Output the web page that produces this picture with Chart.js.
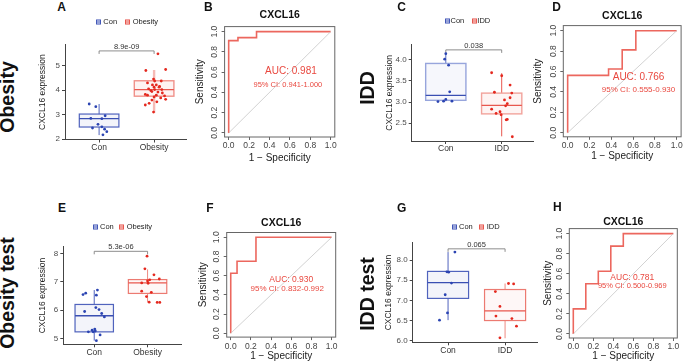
<!DOCTYPE html>
<html>
<head>
<meta charset="utf-8">
<script src="https://cdn.jsdelivr.net/npm/chart.js@4.4.1/dist/chart.umd.min.js"></script>
<style>
  body { margin: 0; width: 685px; height: 364px; background: #fff; position: relative; overflow: hidden;
         font-family: "Liberation Sans", Arial, sans-serif; }
  canvas { position: absolute; }
  .txt { position: absolute; white-space: nowrap; line-height: 1; }
  .tag { font-size: 12px; font-weight: bold; color: #111; transform: translate(-50%, -50%); }
  .row { font-size: 19.5px; font-weight: bold; color: #111; transform: translate(-50%, -50%) rotate(-90deg); }
  .key { font-size: 7.5px; color: #222; transform: translateY(-50%); }
  .mark { position: absolute; width: 3px; height: 3px; border: 1px solid; transform: translateY(-50%); }
</style>
</head>
<body>
<script>
// ---------- data ----------
const obesityGroups = ['Con', 'Obesity'];
const iddGroups = ['Con', 'IDD'];

// A: Obesity (training)
const aConVals = [3.43, 3.32, 2.95, 2.84, 2.83, 2.6, 2.5, 2.45, 2.4, 2.3, 2.17];
const aConJit  = [-0.18, -0.06, 0.11, -0.15, 0.05, -0.02, 0.05, -0.12, 0.1, 0.14, 0.07];
const aObVals  = [5.48, 4.84, 4.8, 4.45, 4.37, 4.37, 4.29, 4.21, 4.21, 4.15, 4.12, 4.12, 4.05, 4.02, 4.02, 3.98,
                  3.94, 3.92, 3.88, 3.82, 3.79, 3.79, 3.76, 3.72, 3.68, 3.62, 3.59, 3.52, 3.46, 3.39, 3.1];
const aObJit   = [0.07, 0.21, -0.15, -0.01, 0.01, 0.13, -0.12, -0.03, 0.04, 0.1, 0.0, 0.09, -0.1, 0.01, 0.14, -0.06,
                  -0.04, 0.07, 0.15, -0.16, -0.12, 0.04, 0.19, 0.0, 0.12, 0.21, -0.04, 0.05, -0.09, -0.16, -0.01];
const aConBox = [2.16, 2.49, 2.83, 3.02, 3.43];   // min, q1, median, q3, max
const aObBox  = [3.06, 3.75, 4.02, 4.38, 4.82];
const aTicks = [2, 3, 4, 5];
const aPval = '8.9e-09';

// C: IDD (training)
const cConVals = [4.14, 4.01, 3.87, 3.24, 3.06, 3.01, 3.02, 3.02];
const cConJit  = [0, -0.02, 0.05, 0.07, 0, -0.14, -0.04, 0.11];
const cIddVals = [3.69, 3.62, 3.4, 3.23, 3.21, 3.05, 3.1, 2.96, 2.91, 2.83, 2.77, 2.73, 2.7, 2.59, 2.58, 2.18];
const cIddJit  = [-0.18, 0, 0.15, -0.13, 0.18, 0.05, 0.15, 0.1, 0.07, -0.18, -0.03, -0.1, -0.01, 0.1, 0.08, 0.19];
const cConBox = [3.02, 3.04, 3.155, 3.91, 4.15];
const cIddBox = [2.19, 2.72, 2.92, 3.21, 3.68];
const cTicks = [2.5, 3.0, 3.5, 4.0];
const cPval = '0.038';

// E: Obesity test
const eConVals = [6.71, 6.6, 6.55, 6.53, 6.09, 6.02, 5.95, 5.88, 5.76, 5.33, 5.29, 5.26, 5.23, 5.23, 5.12, 4.92];
const eConJit  = [0.06, -0.16, -0.21, 0.04, 0.03, 0.09, -0.18, 0.14, 0.19, 0.01, -0.04, 0.02, -0.11, -0.02, 0.11, 0.04];
const eObVals  = [7.91, 7.46, 7.25, 7.1, 7.07, 7.03, 6.96, 6.95, 6.67, 6.63, 6.48, 6.28, 6.27, 6.27];
const eObJit   = [-0.01, -0.05, 0.12, 0.22, 0.04, 0, -0.11, 0.01, -0.11, 0.07, -0.02, 0.03, 0.18, 0.23];
const eConBox = [4.92, 5.23, 5.8, 6.2, 6.71];
const eObBox  = [6.28, 6.59, 6.96, 7.08, 7.44];
const eTicks = [5, 6, 7, 8];
const ePval = '5.3e-06';

// G: IDD test
const gConVals = [8.2, 7.71, 7.7, 7.43, 7.14, 6.69, 6.51];
const gConJit  = [0.12, -0.02, 0.01, 0.06, -0.05, -0.01, -0.15];
const gIddVals = [7.42, 7.41, 7.22, 6.85, 6.61, 6.55, 6.36, 6.07];
const gIddJit  = [0.06, 0.15, -0.17, -0.09, -0.16, 0.12, 0.2, -0.09];
const gConBox = [6.51, 7.05, 7.44, 7.72, 8.2];
const gIddBox = [6.06, 6.5, 6.74, 7.27, 7.42];
const gTicks = [6.0, 6.5, 7.0, 7.5, 8.0];
const gPval = '0.065';

// ROC curves (1 - specificity, sensitivity)
const rocTicks = [0, 0.2, 0.4, 0.6, 0.8, 1.0];
const diagX = [0, 1];
const diagY = [0, 1];
const bFpr = [0, 0, 0.091, 0.091, 0.273, 0.273, 1];
const bTpr = [0, 0.912, 0.912, 0.941, 0.941, 1, 1];
const dFpr = [0, 0, 0.375, 0.375, 0.5, 0.5, 0.625, 0.625, 1];
const dTpr = [0, 0.5625, 0.5625, 0.625, 0.625, 0.8125, 0.8125, 1, 1];
const fFpr = [0, 0, 0.0625, 0.0625, 0.25, 0.25, 1];
const fTpr = [0, 0.625, 0.625, 0.75, 0.75, 1, 1];
const hFpr = [0, 0, 0.125, 0.125, 0.25, 0.25, 0.375, 0.375, 0.5, 0.5, 1];
const hTpr = [0, 0.25, 0.25, 0.5, 0.5, 0.625, 0.625, 0.875, 0.875, 1, 1];
const bAuc = ['AUC: 0.981', '95% CI: 0.941-1.000'];
const dAuc = ['AUC: 0.766', '95% CI: 0.555-0.930'];
const fAuc = ['AUC: 0.930', '95% CI: 0.832-0.992'];
const hAuc = ['AUC: 0.781', '95% CI: 0.500-0.969'];

// ---------- look ----------
const FONT = '"Liberation Sans", Arial, sans-serif';
Chart.defaults.font.family = FONT;
const BOX_W = 0.72;
const ROC_RED = '#e9483f';
const BLUE_PT = '#2b44b2';
const RED_PT = '#e4281e';

function addCanvas(r) {
  const c = document.createElement('canvas');
  c.width = r.right - r.left;
  c.height = r.bottom - r.top;
  c.style.left = r.left + 'px';
  c.style.top = r.top + 'px';
  document.body.appendChild(c);
  return c;
}

function addText(cls, text, x, y, color) {
  const d = document.createElement('div');
  d.className = 'txt ' + cls;
  d.textContent = text;
  d.style.left = x + 'px';
  d.style.top = y + 'px';
  if (color) d.style.color = color;
  document.body.appendChild(d);
}

function addKey(x, y, color, fill) {
  const m = document.createElement('span');
  m.className = 'mark';
  m.style.left = x + 'px';
  m.style.top = y + 'px';
  m.style.borderColor = color;
  m.style.background = `linear-gradient(${color},${color}) center/100% 1px no-repeat, ${fill}`;
  document.body.appendChild(m);
}

function boxChart(p) {
  const cv = addCanvas(p.canvas);
  const yW = p.area.l - p.canvas.left;
  const xH = p.canvas.bottom - p.area.b;
  const layer = {
    id: 'boxLayer',
    beforeDatasetsDraw(chart) {
      const { ctx, scales: { x, y } } = chart;
      p.stats.forEach((s, i) => {
        const st = p.styles[i];
        const cx = x.getPixelForValue(i + 1);
        const hw = x.getPixelForValue(i + 1 + BOX_W / 2) - cx;
        const [lo, q1, md, q3, hi] = s.map(v => y.getPixelForValue(v));
        ctx.save();
        ctx.strokeStyle = st.whisker;
        ctx.lineWidth = st.ww;
        ctx.beginPath();
        ctx.moveTo(cx, hi); ctx.lineTo(cx, q3);
        ctx.moveTo(cx, q1); ctx.lineTo(cx, lo);
        ctx.stroke();
        ctx.fillStyle = st.fill;
        ctx.fillRect(cx - hw, q3, hw * 2, q1 - q3);
        ctx.strokeStyle = st.border;
        ctx.lineWidth = st.bw;
        ctx.strokeRect(cx - hw, q3, hw * 2, q1 - q3);
        ctx.strokeStyle = st.median;
        ctx.lineWidth = 1.3;
        ctx.beginPath();
        ctx.moveTo(cx - hw, md); ctx.lineTo(cx + hw, md);
        ctx.stroke();
        ctx.restore();
      });
      // significance bracket
      const by = y.getPixelForValue(p.bracketY);
      const x1 = x.getPixelForValue(1), x2 = x.getPixelForValue(2);
      ctx.save();
      ctx.strokeStyle = '#808080';
      ctx.lineWidth = 0.9;
      ctx.beginPath();
      ctx.moveTo(x1, by + 3); ctx.lineTo(x1, by); ctx.lineTo(x2, by); ctx.lineTo(x2, by + 3);
      ctx.stroke();
      ctx.fillStyle = '#333';
      ctx.font = '7.5px ' + FONT;
      ctx.textAlign = 'center';
      ctx.textBaseline = 'bottom';
      ctx.fillText(p.pval, (x1 + x2) / 2, by - 0.5);
      ctx.restore();
    }
  };
  new Chart(cv, {
    type: 'scatter',
    data: {
      datasets: p.groups.map((g, i) => ({
        label: g,
        data: p.vals[i].map((v, k) => ({ x: i + 1 + p.jit[i][k], y: v })),
        backgroundColor: i === 0 ? BLUE_PT : RED_PT,
        borderWidth: 0,
        pointRadius: 1.4
      }))
    },
    options: {
      responsive: false,
      animation: false,
      devicePixelRatio: 1,
      layout: { padding: { top: p.area.t - p.canvas.top, right: p.canvas.right - p.area.r, left: 0, bottom: 0 } },
      plugins: { legend: { display: false }, tooltip: { enabled: false } },
      scales: {
        x: {
          type: 'linear', min: p.xMin, max: p.xMax,
          afterBuildTicks: s => { s.ticks = p.groups.map((g, i) => ({ value: i + 1 })); },
          ticks: { callback: v => p.groups[v - 1], font: { size: 8.5 }, color: '#333', padding: 0, maxRotation: 0 },
          grid: { drawOnChartArea: false, tickLength: 3, color: '#444' },
          border: { color: '#444', width: 1 },
          afterFit: s => { s.height = xH; }
        },
        y: {
          min: p.yMin, max: p.yMax,
          afterBuildTicks: s => { s.ticks = p.ticks.map(v => ({ value: v })); },
          ticks: { callback: v => v.toFixed(p.dec), font: { size: 8 }, color: '#4d4d4d', padding: 2 },
          grid: { drawOnChartArea: false, tickLength: 3, color: '#444' },
          border: { color: '#444', width: 1 },
          title: { display: true, text: 'CXCL16 expression', font: { size: 8.5 }, color: '#222',
                   padding: { top: p.yTitleX - p.canvas.left - 5.1, bottom: 0 } },
          afterFit: s => { s.width = yW; }
        }
      }
    },
    plugins: [layer]
  });
}

function rocChart(p) {
  const cv = addCanvas(p.canvas);
  const yW = p.area.l - p.canvas.left;
  const xH = p.canvas.bottom - p.area.b;
  const headH = p.area.t - p.canvas.top;
  const tTop = p.titleY - p.canvas.top - 6.3;
  const tBot = Math.max(0, headH - 12.6 - tTop);
  const frame = {
    id: 'rocFrame',
    afterDatasetsDraw(chart) {
      const { ctx, chartArea: a, scales: { x, y } } = chart;
      ctx.save();
      ctx.strokeStyle = '#666';
      ctx.lineWidth = 1;
      ctx.strokeRect(a.left, a.top, a.right - a.left, a.bottom - a.top);
      ctx.fillStyle = ROC_RED;
      ctx.textAlign = 'center';
      ctx.textBaseline = 'middle';
      ctx.font = p.aucSize[0] + 'px ' + FONT;
      ctx.fillText(p.auc[0], x.getPixelForValue(p.aucAt[0]), y.getPixelForValue(p.aucAt[1]));
      ctx.font = p.aucSize[1] + 'px ' + FONT;
      ctx.fillText(p.auc[1], x.getPixelForValue(p.ciAt[0]), y.getPixelForValue(p.ciAt[1]));
      ctx.restore();
    }
  };
  new Chart(cv, {
    type: 'scatter',
    data: {
      datasets: [
        { data: diagX.map((v, i) => ({ x: v, y: diagY[i] })), showLine: true,
          borderColor: '#c6c6c6', borderWidth: 0.8, pointRadius: 0 },
        { data: p.fpr.map((v, i) => ({ x: v, y: p.tpr[i] })), showLine: true,
          borderColor: '#ec675e', borderWidth: 1.6, pointRadius: 0 }
      ]
    },
    options: {
      responsive: false,
      animation: false,
      devicePixelRatio: 1,
      layout: { padding: { top: 0, left: 0, bottom: 0, right: p.canvas.right - p.area.r } },
      plugins: {
        legend: { display: false },
        tooltip: { enabled: false },
        title: { display: true, text: 'CXCL16', fullSize: false, color: '#111',
                 font: { size: 10.5, weight: 'bold' }, padding: { top: tTop, bottom: tBot } }
      },
      scales: {
        x: {
          type: 'linear', min: -0.04, max: 1.04,
          afterBuildTicks: s => { s.ticks = rocTicks.map(v => ({ value: v })); },
          ticks: { callback: v => v.toFixed(1), font: { size: 8.5 }, color: '#444', padding: 1, maxRotation: 0 },
          grid: { drawOnChartArea: false, tickLength: 3, color: '#666' },
          border: { display: false },
          title: { display: true, text: '1 \u2212 Specificity', font: { size: 10 }, color: '#222',
                   padding: { top: 0, bottom: p.canvas.bottom - p.xTitleY - 6 } },
          afterFit: s => { s.height = xH; }
        },
        y: {
          min: -0.04, max: 1.05,
          afterBuildTicks: s => { s.ticks = rocTicks.map(v => ({ value: v })); },
          ticks: { callback: v => v.toFixed(1), font: { size: 8.5 }, color: '#444', padding: 1,
                   minRotation: 90, maxRotation: 90, crossAlign: 'center' },
          grid: { drawOnChartArea: false, tickLength: 3, color: '#666' },
          border: { display: false },
          title: { display: true, text: 'Sensitivity', font: { size: 10 }, color: '#222',
                   padding: { top: p.yTitleX - p.canvas.left - 6, bottom: 0 } },
          afterFit: s => { s.width = yW; }
        }
      }
    },
    plugins: [frame]
  });
}

// ---------- styles per box ----------
const sBlue = { border: '#5063bd', fill: 'rgba(80,99,189,0.07)', median: '#3a4fb2', whisker: '#5063bd', ww: 1, bw: 1.2 };
const sBlueLight = { border: '#97a5dc', fill: 'rgba(80,99,189,0.05)', median: '#3a4fb2', whisker: '#5569c0', ww: 1, bw: 1.4 };
const sRedLight = { border: '#f0928b', fill: 'rgba(236,100,90,0.08)', median: '#e8584f', whisker: '#f6bab5', ww: 2.4, bw: 1.4 };
const sRed = { border: '#f2a39c', fill: 'rgba(236,100,90,0.07)', median: '#e8574e', whisker: '#e8574e', ww: 1, bw: 1.4 };
const sRed2 = { border: '#ec7a71', fill: 'rgba(236,100,90,0.05)', median: '#e8574e', whisker: '#ee8a82', ww: 1, bw: 1.2 };

// ---------- panels ----------
boxChart({
  canvas: { left: 30, top: 38, right: 190, bottom: 158 }, area: { l: 65, t: 43, r: 186, b: 139.5 },
  groups: obesityGroups, vals: [aConVals, aObVals], jit: [aConJit, aObJit], stats: [aConBox, aObBox],
  styles: [sBlue, sRedLight], ticks: aTicks, dec: 0, xMin: 0.38, xMax: 2.58, yMin: 1.98, yMax: 5.85,
  yTitleX: 43, bracketY: 5.6, pval: aPval
});
boxChart({
  canvas: { left: 378, top: 38, right: 537, bottom: 158 }, area: { l: 411.7, t: 42.7, r: 533, b: 141 },
  groups: iddGroups, vals: [cConVals, cIddVals], jit: [cConJit, cIddJit], stats: [cConBox, cIddBox],
  styles: [sBlueLight, sRed], ticks: cTicks, dec: 1, xMin: 0.39, xMax: 2.56, yMin: 2.08, yMax: 4.35,
  yTitleX: 389.3, bracketY: 4.23, pval: cPval
});
boxChart({
  canvas: { left: 30, top: 240, right: 186, bottom: 362 }, area: { l: 63.3, t: 246.7, r: 181.7, b: 344.3 },
  groups: obesityGroups, vals: [eConVals, eObVals], jit: [eConJit, eObJit], stats: [eConBox, eObBox],
  styles: [sBlue, sRed2], ticks: eTicks, dec: 0, xMin: 0.42, xMax: 2.64, yMin: 4.79, yMax: 8.24,
  yTitleX: 42.7, bracketY: 8.08, pval: ePval
});
boxChart({
  canvas: { left: 378, top: 236, right: 541, bottom: 362 }, area: { l: 412.7, t: 241.7, r: 537, b: 342.3 },
  groups: iddGroups, vals: [gConVals, gIddVals], jit: [gConJit, gIddJit], stats: [gConBox, gIddBox],
  styles: [sBlue, sRed2], ticks: gTicks, dec: 1, xMin: 0.38, xMax: 2.56, yMin: 5.96, yMax: 8.43,
  yTitleX: 389, bracketY: 8.28, pval: gPval
});

rocChart({
  canvas: { left: 190, top: 0, right: 340, bottom: 165 }, area: { l: 224.6, t: 26.6, r: 334.8, b: 137 },
  titleY: 15, yTitleX: 200, xTitleY: 158, fpr: bFpr, tpr: bTpr,
  auc: bAuc, aucSize: [10, 7.5], aucAt: [0.61, 0.605], ciAt: [0.58, 0.474]
});
rocChart({
  canvas: { left: 528, top: 0, right: 685, bottom: 165 }, area: { l: 563.3, t: 25.6, r: 681.1, b: 136.8 },
  titleY: 15.7, yTitleX: 538.3, xTitleY: 156, fpr: dFpr, tpr: dTpr,
  auc: dAuc, aucSize: [10, 8], aucAt: [0.65, 0.543], ciAt: [0.65, 0.425]
});
rocChart({
  canvas: { left: 192, top: 205, right: 340, bottom: 364 }, area: { l: 226.7, t: 232.5, r: 335.7, b: 337.1 },
  titleY: 222.7, yTitleX: 203.3, xTitleY: 356.7, fpr: fFpr, tpr: fTpr,
  auc: fAuc, aucSize: [8.5, 8], aucAt: [0.6, 0.5625], ciAt: [0.56, 0.465]
});
rocChart({
  canvas: { left: 536, top: 205, right: 682, bottom: 364 }, area: { l: 569.3, t: 228.3, r: 677.3, b: 338 },
  titleY: 222.3, yTitleX: 548.3, xTitleY: 356.7, fpr: hFpr, tpr: hTpr,
  auc: hAuc, aucSize: [8.5, 7.5], aucAt: [0.59, 0.56], ciAt: [0.59, 0.477]
});

// ---------- panel letters, row labels, legends ----------
[['A', 61.7, 7.3], ['B', 208.3, 6.7], ['C', 401.7, 7.3], ['D', 556.7, 7.3],
 ['E', 62, 208], ['F', 210, 208], ['G', 401.7, 208.3], ['H', 557.3, 206.7]]
  .forEach(([t, x, y]) => addText('tag', t, x, y));
[['Obesity', 8.3, 96.7], ['IDD', 368, 88], ['Obesity test', 8.3, 293.3], ['IDD test', 368, 294]]
  .forEach(([t, x, y]) => addText('row', t, x, y));

const keyBlue = ['#4257b8', 'rgba(80,99,189,0.12)'];
const keyRed = ['#e8574e', 'rgba(236,100,90,0.15)'];
[[96, 103.3, 125, 132.7, 22, obesityGroups], [445, 450.5, 471.7, 477.3, 21.3, iddGroups],
 [93.3, 100, 119.3, 126.7, 227.3, obesityGroups], [451.7, 459, 479.3, 486.7, 227.3, iddGroups]]
  .forEach(([m1, t1, m2, t2, y, g]) => {
    addKey(m1, y, keyBlue[0], keyBlue[1]);
    addText('key', g[0], t1, y);
    addKey(m2, y, keyRed[0], keyRed[1]);
    addText('key', g[1], t2, y);
  });
</script>
</body>
</html>
